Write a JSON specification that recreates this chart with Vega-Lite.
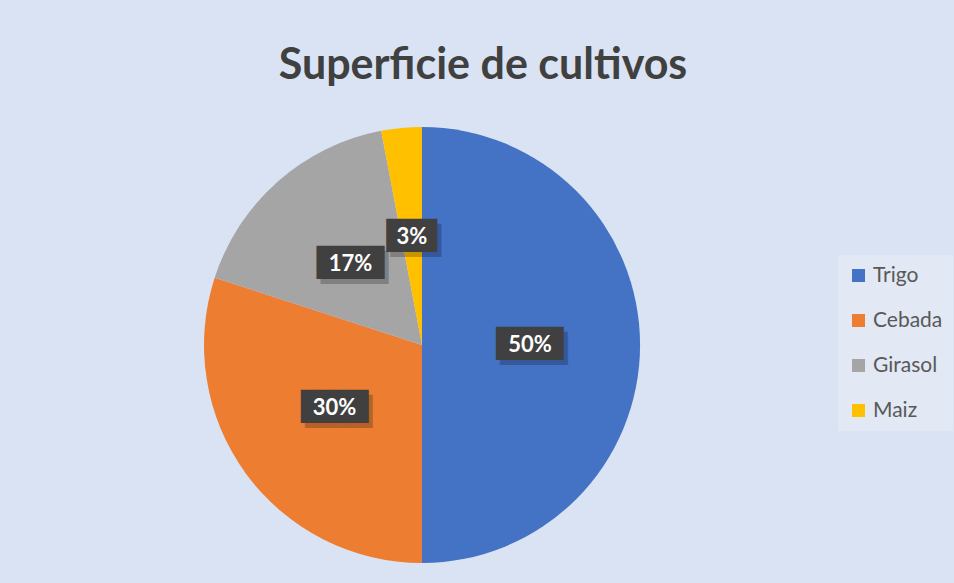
{
  "$schema": "https://vega.github.io/schema/vega-lite/v6.json",
  "autosize": "none",
  "width": 844,
  "height": 476,
  "padding": {"top": 107, "left": 0, "right": 110, "bottom": 0},
  "background": "#dae3f3",
  "view": {"stroke": null},
  "title": {
    "text": "Superficie de cultivos",
    "font": "Lato",
    "fontSize": 43,
    "fontWeight": "bold",
    "color": "#404040",
    "anchor": "middle",
    "frame": "group",
    "dx": 61,
    "dy": 41,
    "baseline": "alphabetic",
    "offset": 26
  },
  "data": {
    "values": [
      {"cultivo": "Trigo", "pct": 50, "orden": 1},
      {"cultivo": "Cebada", "pct": 30, "orden": 2},
      {"cultivo": "Girasol", "pct": 17, "orden": 3},
      {"cultivo": "Maiz", "pct": 3, "orden": 4}
    ]
  },
  "transform": [
    {"calculate": "datum.pct + '%'", "as": "label"},
    {"calculate": "datum.pct >= 10 ? '████' : '███'", "as": "box"}
  ],
  "encoding": {
    "theta": {"field": "pct", "type": "quantitative", "stack": true},
    "order": {"field": "orden", "type": "quantitative"}
  },
  "layer": [
    {
      "mark": {"type": "arc", "outerRadius": 218, "stroke": null},
      "encoding": {
        "color": {
          "field": "cultivo",
          "type": "nominal",
          "sort": ["Trigo", "Cebada", "Girasol", "Maiz"],
          "scale": {
            "domain": ["Trigo", "Cebada", "Girasol", "Maiz"],
            "range": ["#4472c4", "#ed7d31", "#a5a5a5", "#ffc000"]
          },
          "legend": {
            "title": null,
            "orient": "none",
            "legendX": 838,
            "legendY": 148,
            "fillColor": "#e2e8f4",
            "padding": 10,
            "symbolType": "square",
            "symbolSize": 170,
            "symbolStrokeWidth": 0,
            "labelFont": "Lato",
            "labelFontSize": 21,
            "labelColor": "#595959",
            "labelOffset": 4,
            "rowPadding": 23,
            "labelLimit": 200
          }
        }
      }
    },
    {
      "mark": {"type": "text", "radius": 108, "font": "DejaVu Sans Mono", "fontSize": 28, "color": "#000000", "opacity": 0.22, "baseline": "middle", "align": "center", "dx": 4, "dy": 5},
      "encoding": {"text": {"field": "box"}}
    },
    {
      "mark": {"type": "text", "radius": 108, "font": "DejaVu Sans Mono", "fontSize": 28, "color": "#404040", "baseline": "middle", "align": "center", "dy": 0},
      "encoding": {"text": {"field": "box"}}
    },
    {
      "mark": {"type": "text", "radius": 108, "font": "Lato", "fontSize": 22, "fontWeight": "bold", "color": "#ffffff", "baseline": "middle", "align": "center"},
      "encoding": {"text": {"field": "label"}}
    }
  ]
}
